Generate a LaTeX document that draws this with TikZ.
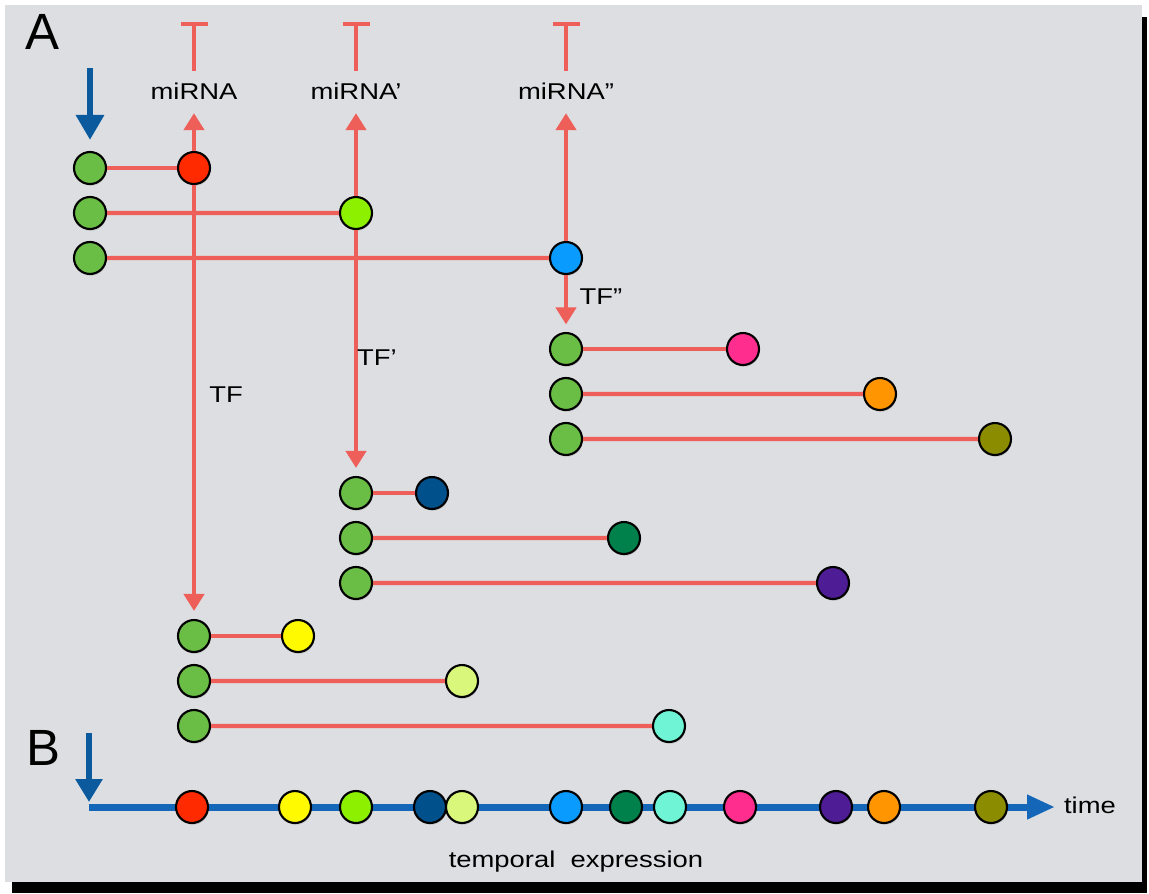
\documentclass[tikz,border=0pt]{standalone}
\usepackage{fontspec}
\setmainfont{Liberation Sans}
\newfontfamily\widefont[FakeStretch=1.2]{Liberation Sans}
\usetikzlibrary{positioning,arrows.meta,shadows}

\definecolor{cPanel}{HTML}{DCDEE1}
\definecolor{cLink}{HTML}{EE5F5A}
\definecolor{cArrow}{HTML}{0B5A9E}
\definecolor{cTime}{HTML}{1466B8}
\definecolor{cGreen}{HTML}{6ABD45}
\definecolor{cRed}{HTML}{FF2A00}
\definecolor{cLime}{HTML}{8CF000}
\definecolor{cSky}{HTML}{0A9BFF}
\definecolor{cPink}{HTML}{FF2D8E}
\definecolor{cOrange}{HTML}{FF9500}
\definecolor{cOlive}{HTML}{8C8C00}
\definecolor{cNavy}{HTML}{00508C}
\definecolor{cDkGreen}{HTML}{00804A}
\definecolor{cPurple}{HTML}{4E1C94}
\definecolor{cYellow}{HTML}{FFFA00}
\definecolor{cPale}{HTML}{D9F77A}
\definecolor{cAqua}{HTML}{6FF5D5}

\begin{document}
\begin{tikzpicture}[x=0.02cm, y=-0.02cm]
\tikzstyle{dot}=[draw, circle, line width=1.2pt, minimum size=0.64cm, inner sep=0pt, node distance=0.9cm, drop shadow={opacity=.3, shadow xshift=.4pt, shadow yshift=-1pt}]
\tikzstyle{gene}=[dot, fill=cGreen]
\tikzstyle{link}=[draw=cLink, line width=2.4pt]
\tikzstyle{act}=[link, -{Triangle[width=0.4cm, length=0.34cm]}]
\tikzstyle{inh}=[link, -{Bar[width=0.54cm]}]
\tikzstyle{down}=[draw=cArrow, line width=0.13cm, -{Triangle[width=0.54cm, length=0.5cm]}]
\tikzstyle{lbl}=[inner sep=2pt, font=\widefont\fontsize{13}{15}\selectfont]
\tikzstyle{big}=[inner sep=0pt, font=\fontsize{29}{32}\selectfont]

\useasboundingbox (0,0) rectangle (1149,893);
\fill[black] (12,17) rectangle (1147,893);
\fill[cPanel] (5,5) rectangle (1142,882);

\node[big] (A) at (42,32) {A};
\node[big] (B) at (43,748) {B};

% first wave
\coordinate (in0) at (90,68);
\node[gene] (g1) at (90,168) {};
\node[gene, below of=g1] (g2) {};
\node[gene, below of=g2] (g3) {};
\draw[down, shorten >=0.22cm] (in0) -- (g1);

\node[dot, fill=cRed] (r1) at (194,168) {};
\node[dot, fill=cLime] (r2) at (356,213) {};
\node[dot, fill=cSky] (r3) at (566,258) {};
\draw[link] (g1) -- (r1);
\draw[link] (g2) -- (r2);
\draw[link] (g3) -- (r3);

% miRNAs
\node[lbl] (m1) at (194,91) {miRNA};
\node[lbl] (m2) at (356,91) {miRNA’};
\node[lbl] (m3) at (566,91) {miRNA”};
\coordinate (t1) at (194,22);
\coordinate (t2) at (356,22);
\coordinate (t3) at (566,22);
\foreach \i in {1,2,3}{
  \draw[act, shorten >=0.2cm] (r\i) -- (m\i);
  \draw[inh, shorten <=0.16cm] (m\i) -- (t\i);
}

% TF'' targets
\node[gene] (h1) at (566,349) {};
\node[gene, below of=h1] (h2) {};
\node[gene, below of=h2] (h3) {};
\node[dot, fill=cPink] (h1e) at (743,349) {};
\node[dot, fill=cOrange] (h2e) at (880,394) {};
\node[dot, fill=cOlive] (h3e) at (995,439) {};
\draw[act, shorten >=0.15cm] (r3) -- (h1);
\node[lbl] (tf3) at (601,297) {TF”};

% TF' targets
\node[gene] (k1) at (356,493) {};
\node[gene, below of=k1] (k2) {};
\node[gene, below of=k2] (k3) {};
\node[dot, fill=cNavy] (k1e) at (432,493) {};
\node[dot, fill=cDkGreen] (k2e) at (624,538) {};
\node[dot, fill=cPurple] (k3e) at (833,583) {};
\draw[act, shorten >=0.16cm] (r2) -- (k1);
\node[lbl] (tf2) at (377,358) {TF’};

% TF targets
\node[gene] (f1) at (194,636) {};
\node[gene, below of=f1] (f2) {};
\node[gene, below of=f2] (f3) {};
\node[dot, fill=cYellow] (f1e) at (298,636) {};
\node[dot, fill=cPale] (f2e) at (462,681) {};
\node[dot, fill=cAqua] (f3e) at (669,726) {};
\draw[act, shorten >=0.16cm] (r1) -- (f1);
\node[lbl] (tf1) at (226,395) {TF};

\foreach \n in {h,k,f}{
  \foreach \i in {1,2,3}
    \draw[link] (\n\i) -- (\n\i e);
}

% timeline
\coordinate (tl0) at (89,807);
\coordinate (tl1) at (1055,807);
\coordinate (b0) at (89,733);
\draw[draw=cTime, line width=0.14cm, -{Triangle[width=0.46cm, length=0.56cm]}] (tl0) -- (tl1);
\draw[down, line width=0.12cm, -{Triangle[width=0.52cm, length=0.46cm]}, shorten >=0.1cm] (b0) -- (tl0);
\foreach \x/\c [count=\i] in {192/cRed, 295/cYellow, 356/cLime, 430/cNavy, 462/cPale, 566/cSky, 626/cDkGreen, 670/cAqua, 740/cPink, 836/cPurple, 884/cOrange, 991/cOlive}
  \node[dot, fill=\c] (p\i) at (\x,807) {};
\node[lbl] (time) at (1090,805) {time};
\node[lbl] (expr) at (576,862) {temporal\ \ expression};
\end{tikzpicture}
\end{document}
